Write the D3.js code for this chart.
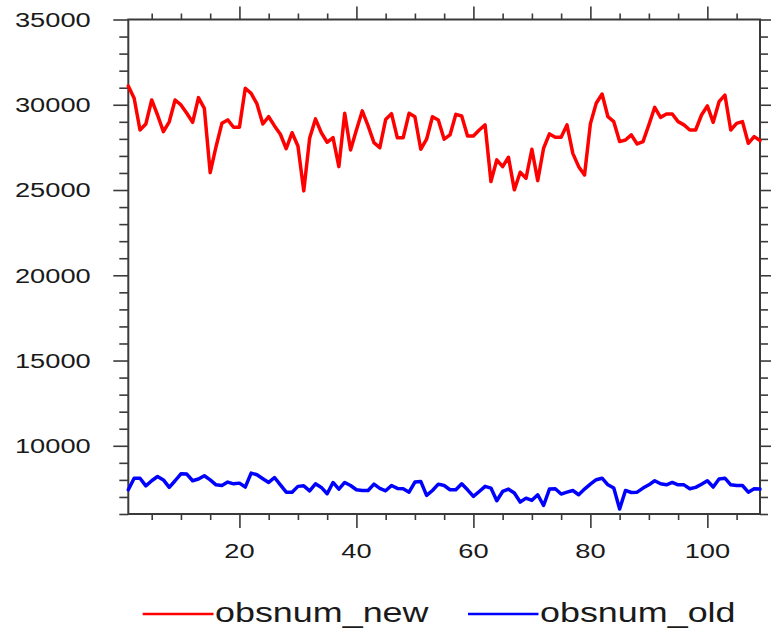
<!DOCTYPE html>
<html>
<head>
<meta charset="utf-8">
<script src="https://cdn.jsdelivr.net/npm/d3@7"></script>
<style>
  html, body { margin: 0; padding: 0; background: #fff; }
  svg { display: block; }
  text { font-family: "Liberation Sans", Arial, sans-serif; fill: #1a1a1a; }
</style>
</head>
<body>
<script>
// Observation counts per cycle (index 1..109)
const obsnumNew = [
  31100, 30380, 28520, 28870, 30280, 29400, 28420, 29000, 30280, 29990,
  29500, 28970, 30420, 29790, 26020, 27540, 28910, 29110, 28680, 28680,
  30970, 30670, 30050, 28870, 29300, 28760, 28270, 27420, 28360, 27580,
  24950, 28030, 29170, 28360, 27800, 28070, 26370, 29500, 27350, 28520,
  29640, 28760, 27780, 27480, 29130, 29480, 28060, 28070, 29500, 29300,
  27390, 27980, 29300, 29110, 27980, 28230, 29440, 29340, 28170, 28170,
  28520, 28820, 25500, 26770, 26370, 26920, 25010, 26040, 25690, 27390,
  25550, 27450, 28290, 28090, 28090, 28820, 27150, 26370, 25880, 28880,
  30090, 30630, 29300, 29010, 27840, 27930, 28230, 27700, 27840, 28820,
  29850, 29260, 29460, 29460, 29010, 28820, 28520, 28520, 29400, 29930,
  28970, 30180, 30570, 28520, 28910, 29010, 27740, 28130, 27900
];
const obsnumOld = [
  7420, 8100, 8100, 7650, 7950, 8200, 8000, 7560, 7950, 8360,
  8340, 7950, 8050, 8240, 8000, 7710, 7670, 7870, 7770, 7810,
  7580, 8400, 8300, 8070, 7850, 8140, 7710, 7280, 7280, 7620,
  7650, 7360, 7770, 7560, 7190, 7850, 7460, 7850, 7670, 7420,
  7380, 7380, 7750, 7500, 7360, 7670, 7500, 7480, 7280, 7870,
  7910, 7090, 7380, 7750, 7670, 7420, 7420, 7770, 7420, 7030,
  7320, 7620, 7520, 6780, 7320, 7460, 7230, 6700, 6930, 6800,
  7130, 6500, 7460, 7480, 7170, 7280, 7380, 7130, 7460, 7750,
  8010, 8100, 7710, 7520, 6290, 7380, 7260, 7280, 7520, 7710,
  7950, 7770, 7710, 7850, 7710, 7710, 7480, 7560, 7750, 7950,
  7580, 8050, 8100, 7710, 7670, 7670, 7280, 7480, 7460
];
const seriesNames = ["obsnum_new", "obsnum_old"];
const seriesColors = ["#ff0000", "#0000ff"];
const xMajorTicks = [20, 40, 60, 80, 100];
const yMajorTicks = [10000, 15000, 20000, 25000, 30000, 35000];

const W = 771, H = 629;
const plotLeft = 128.3, plotRight = 760, plotTop = 19.5, plotBottom = 514;
const textStretch = 1.33;

const svg = d3.select("body").append("svg")
  .attr("width", W).attr("height", H);

const x = d3.scaleLinear().domain([1, 109]).range([plotLeft, plotRight]);
const y = d3.scaleLinear().domain([6000, 35000]).range([plotBottom, plotTop]);

const xMinor = d3.range(5, 110, 5).filter(v => v % 20 !== 0);
const yMinor = d3.range(6000, 35001, 1000).filter(v => v % 5000 !== 0);

const axisColor = "#3a3a3a";
function styleAxis(g) {
  g.select(".domain").remove();
  g.selectAll(".tick line").attr("stroke", axisColor).attr("stroke-width", 1.6);
  g.selectAll(".tick text").remove();
}

// tick marks, drawn outward on all four sides
const axes = [
  [d3.axisBottom(x).tickValues(xMajorTicks).tickSize(14), `translate(0,${plotBottom})`],
  [d3.axisBottom(x).tickValues(xMinor).tickSize(6), `translate(0,${plotBottom})`],
  [d3.axisTop(x).tickValues(xMajorTicks).tickSize(13), `translate(0,${plotTop})`],
  [d3.axisTop(x).tickValues(xMinor).tickSize(6), `translate(0,${plotTop})`],
  [d3.axisLeft(y).tickValues(yMajorTicks).tickSize(15), `translate(${plotLeft},0)`],
  [d3.axisLeft(y).tickValues(yMinor).tickSize(9), `translate(${plotLeft},0)`],
  [d3.axisRight(y).tickValues(yMajorTicks).tickSize(15), `translate(${plotRight},0)`],
  [d3.axisRight(y).tickValues(yMinor).tickSize(8), `translate(${plotRight},0)`]
];
axes.forEach(([ax, tr]) => {
  svg.append("g").attr("transform", tr).call(ax.tickSizeOuter(0)).call(styleAxis);
});

// plot frame
svg.append("rect")
  .attr("x", plotLeft).attr("y", plotTop)
  .attr("width", plotRight - plotLeft).attr("height", plotBottom - plotTop)
  .attr("fill", "none").attr("stroke", axisColor).attr("stroke-width", 2);

// tick labels (horizontally widened lettering)
svg.append("g").selectAll("text").data(yMajorTicks).join("text")
  .attr("transform", d => `translate(90.7,${y(d) + 7.3}) scale(${textStretch},1)`)
  .attr("text-anchor", "end")
  .attr("font-size", 20.5)
  .text(d => d);

svg.append("g").selectAll("text").data(xMajorTicks).join("text")
  .attr("transform", d => `translate(${x(d)},558.3) scale(${textStretch},1)`)
  .attr("text-anchor", "middle")
  .attr("font-size", 20.5)
  .text(d => d);

// data lines
const line = d3.line().x((d, i) => x(i + 1)).y(d => y(d));
[obsnumNew, obsnumOld].forEach((vals, k) => {
  svg.append("path")
    .datum(vals)
    .attr("d", line)
    .attr("fill", "none")
    .attr("stroke", seriesColors[k])
    .attr("stroke-width", 3.5)
    .attr("stroke-linejoin", "round")
    .attr("stroke-linecap", "round");
});

// legend
const legendItems = [
  { x0: 142.7, x1: 213.5, tx: 215 },
  { x0: 468, x1: 538.5, tx: 540 }
];
legendItems.forEach((it, k) => {
  svg.append("line")
    .attr("x1", it.x0).attr("x2", it.x1)
    .attr("y1", 614).attr("y2", 614)
    .attr("stroke", seriesColors[k]).attr("stroke-width", 2.6);
  svg.append("text")
    .attr("transform", `translate(${it.tx},621.7) scale(${textStretch},1)`)
    .attr("font-size", 27)
    .text(seriesNames[k]);
});
</script>
</body>
</html>
